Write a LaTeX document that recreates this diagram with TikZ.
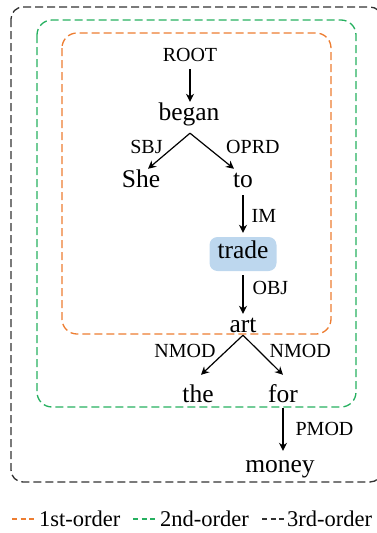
\documentclass[tikz,border=0pt]{standalone}
\usepackage{fontspec}
\setmainfont{Liberation Serif}
\usetikzlibrary{arrows.meta}

\definecolor{firstord}{RGB}{237,125,49}
\definecolor{secondord}{RGB}{38,176,96}
\definecolor{thirdord}{RGB}{50,50,50}
\definecolor{headfill}{RGB}{189,215,238}

\begin{document}
\begin{tikzpicture}[x=1pt, y=-1pt, >={Stealth[length=8pt, width=8pt]},
    word/.style={anchor=base, inner sep=0pt, text height=18pt, text depth=6pt, font=\fontsize{25.5}{26}\selectfont},
    head word/.style={fill=headfill, rounded corners=8pt, minimum width=67pt, minimum height=34pt, inner sep=0pt, text height=16pt, text depth=8pt, font=\fontsize{25.5}{26}\selectfont},
    rel/.style={inner sep=1pt, font=\fontsize{20}{22}\selectfont},
    legend/.style={anchor=base west, inner sep=0pt, font=\fontsize{22.5}{24}\selectfont},
    order box/.style={dash pattern=on 8pt off 4pt, line width=1.3pt},
    sample/.style={dash pattern=on 5pt off 3.5pt, line width=1.3pt},
    dep/.style={->, line width=1.2pt}]
	\useasboundingbox (0,0) rectangle (376,533);
	
	% k-order boxes
	\draw[order box, thirdord, rounded corners=12pt] (11,7) rectangle (382,482);
	\draw[order box, secondord, rounded corners=15pt] (37,20) rectangle (356,407);
	\draw[order box, firstord, rounded corners=15pt] (62,33) rectangle (331,334);
	
	\node[rel, anchor=base] (ROOT) at (190,61) {ROOT};
	\node[word] (began) at (189,120) {began};
	\node[word] (She) at (141,187) {She};
	\node[word] (to) at (243,187) {to};
	\node[head word] (trade) at (243,254) {trade};
	\node[word] (art) at (243,332) {art};
	\node[word] (the) at (198,402) {the};
	\node[word] (for) at (283,402) {for};
	\node[word] (money) at (280,472) {money};
	
	\path[dep]
		(ROOT.south) edge[shorten <=7pt] (ROOT.south |- began.north)
		([xshift=1pt, yshift=-7pt]began.south) edge node[rel, pos=.4, left=9pt] {SBJ} ([xshift=7pt]She.north)
		([xshift=1pt, yshift=-7pt]began.south) edge node[rel, pos=.4, right=17pt] {OPRD} ([xshift=-9pt]to.north)
		([yshift=-2pt]to.south) edge[shorten >=4pt] node[rel, right=7pt] {IM} (trade)
		(trade) edge[shorten <=4pt] node[rel, pos=.4, right=8pt] {OBJ} (art.north)
		([yshift=3pt]art.south) edge node[rel, pos=.4, left=9pt] {NMOD} ([xshift=3pt, yshift=9pt]the.north)
		([yshift=3pt]art.south) edge node[rel, pos=.4, right=9pt] {NMOD} ([yshift=9pt]for.north)
		(for.south) edge[shorten >=3pt] node[rel, pos=.45, right=11pt] {PMOD} (for.south |- money.north)
	;
	
	% legend
	\draw[sample, firstord] (12,519) -- (34,519);
	\node[legend] (first) at (39,526) {1st-order};
	\draw[sample, secondord] (133,519) -- (155,519);
	\node[legend] (second) at (160,526) {2nd-order};
	\draw[sample, thirdord] (262,519) -- (284,519);
	\node[legend] (third) at (287,526) {3rd-order};
\end{tikzpicture}
\end{document}
